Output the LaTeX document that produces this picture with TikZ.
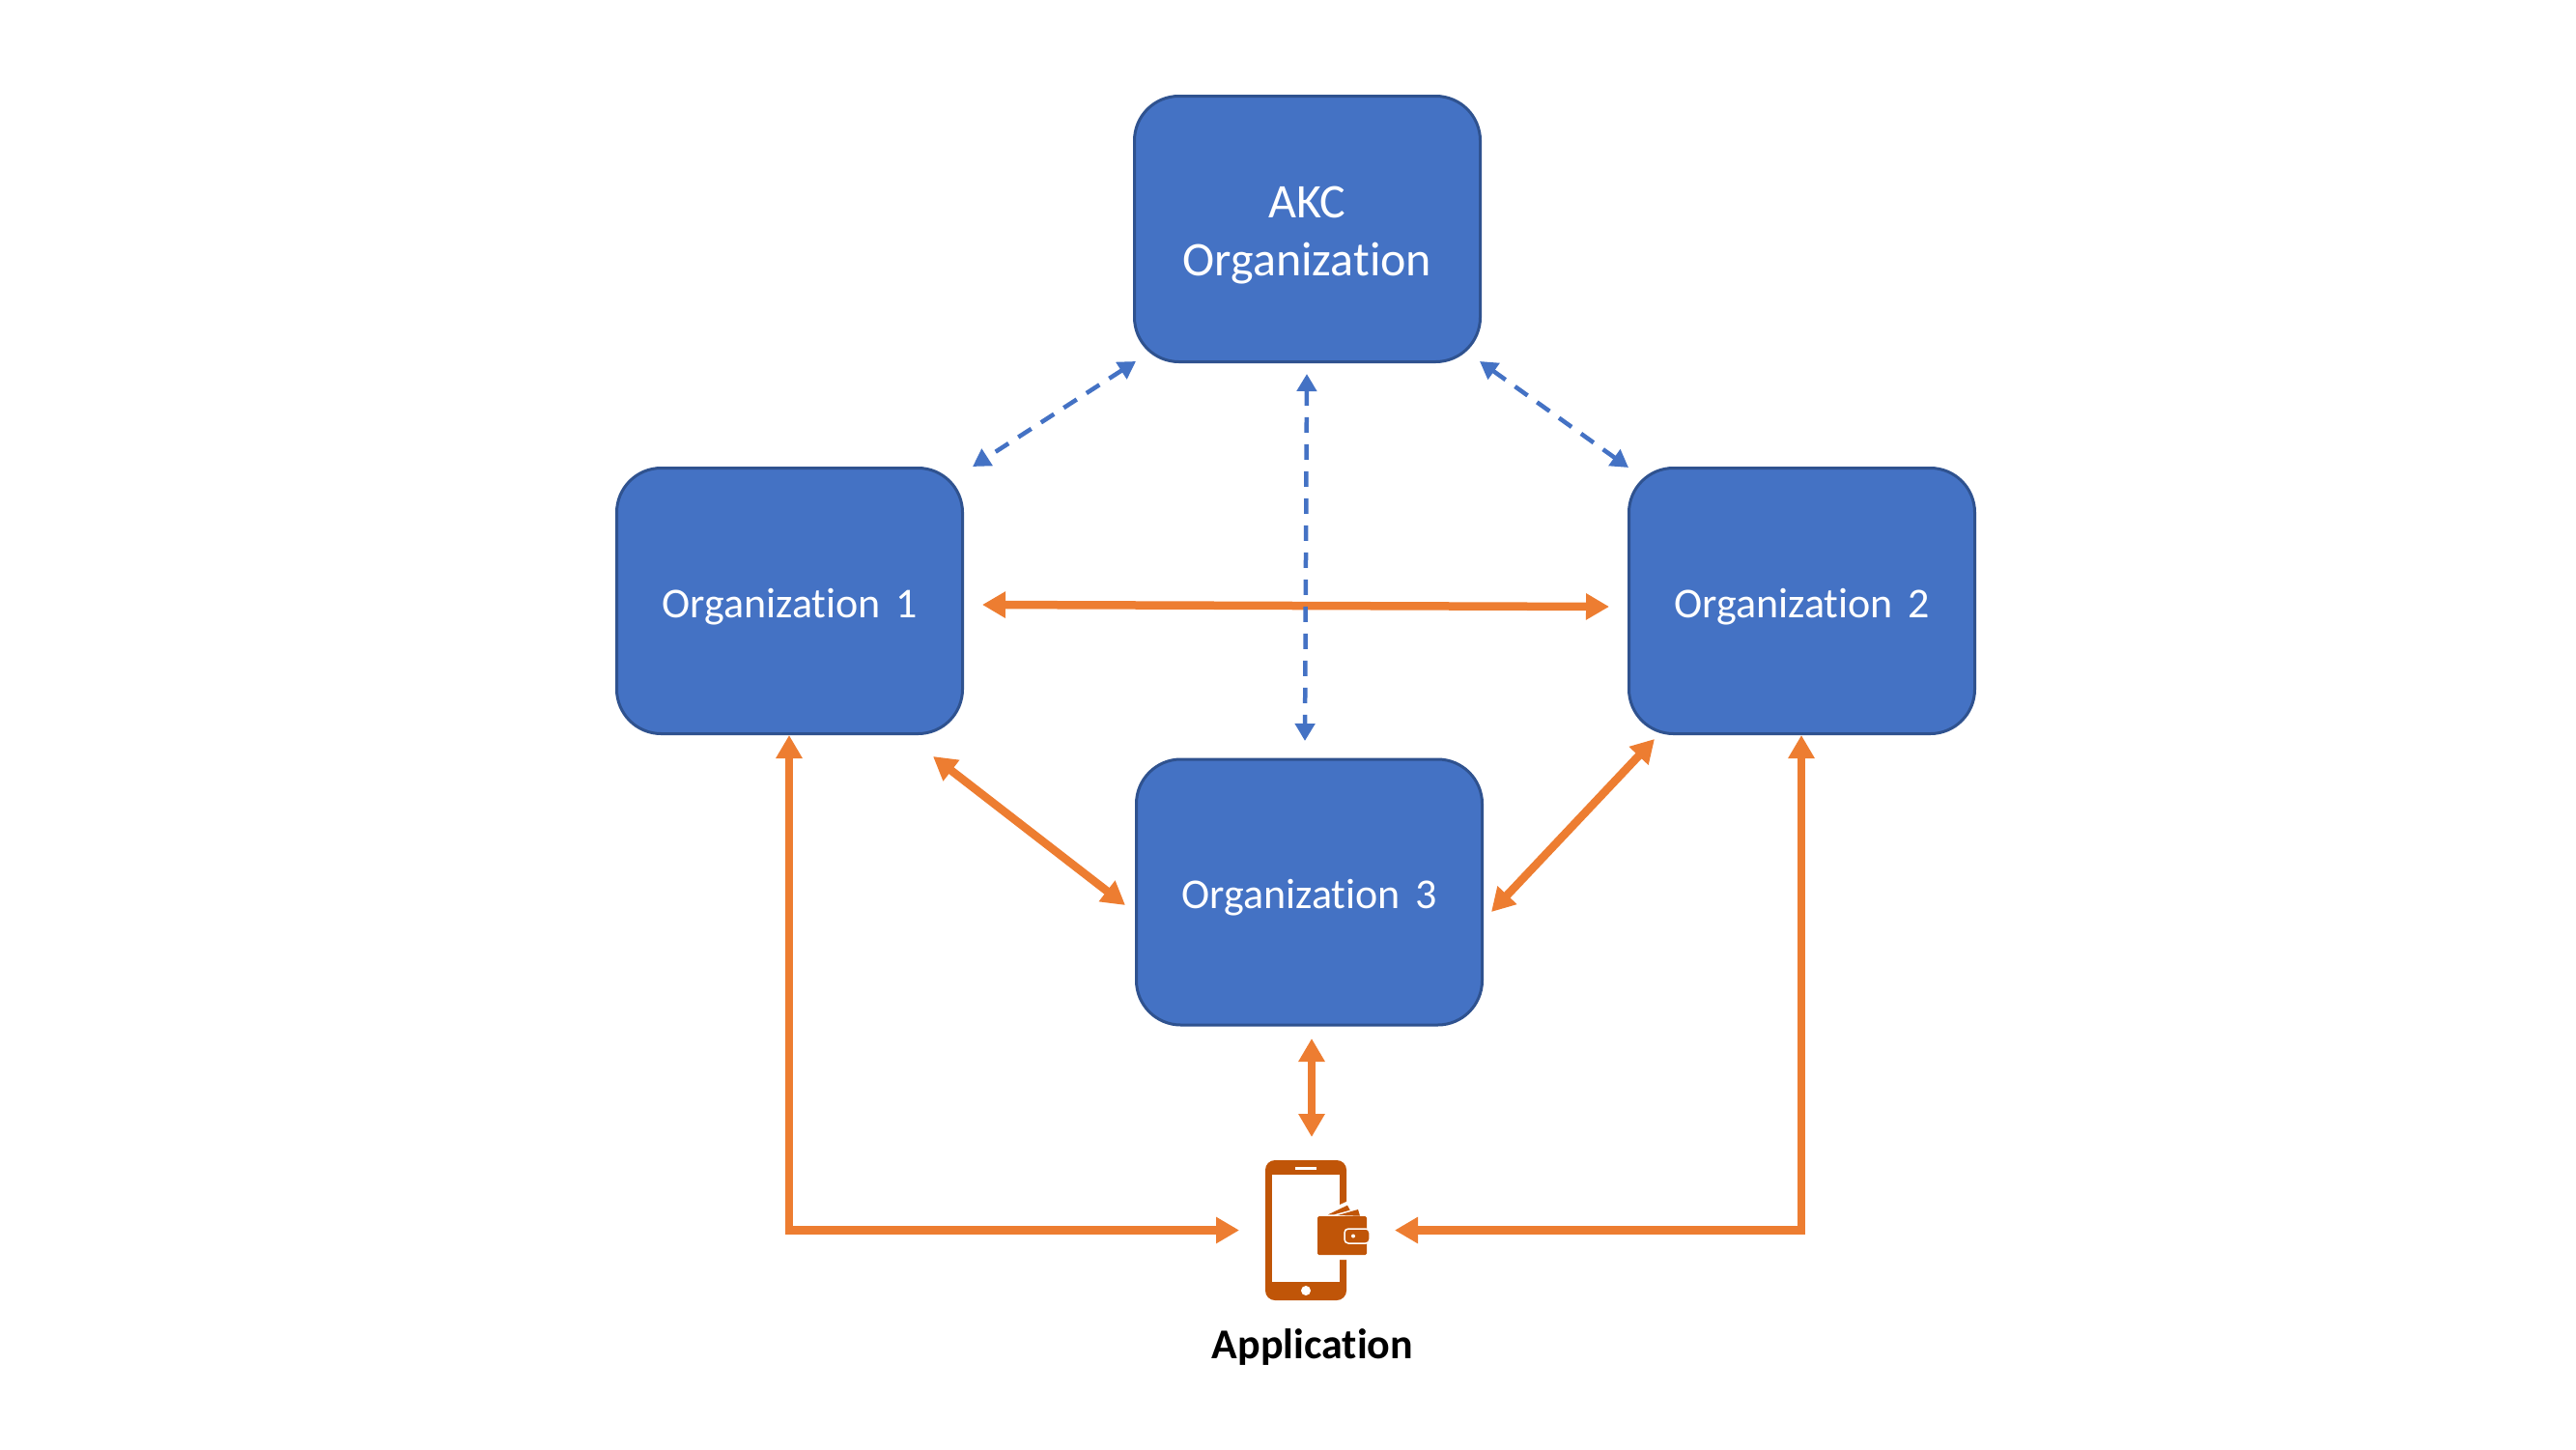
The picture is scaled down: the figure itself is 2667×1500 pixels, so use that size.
\documentclass[tikz,border=0pt]{standalone}
\usepackage{fontspec}
\setmainfont[Ligatures=NoCommon]{Carlito}
\usetikzlibrary{arrows.meta,calc}
\definecolor{boxfill}{HTML}{4472C4}
\definecolor{boxline}{HTML}{2F528F}
\definecolor{linkorange}{HTML}{ED7D31}
\definecolor{iconorange}{HTML}{C05508}
\tikzset{
  orgbox/.style={draw=boxline,line width=3pt,fill=boxfill,rounded corners=46pt,
    minimum width=358pt,minimum height=275pt,inner sep=0pt,align=center,text=white,
    font=\fontsize{44}{60}\selectfont},
  orangelink/.style={draw=linkorange,line width=8.5pt,
    {Triangle[length=24pt,width=26pt]}-{Triangle[length=24pt,width=26pt]}},
  bluelink/.style={draw=boxfill,line width=4.5pt,dash pattern=on 16pt off 12pt,
    {Triangle[length=18pt,width=20pt]}-{Triangle[length=18pt,width=20pt]}},
  iconpart/.style={fill=iconorange,draw=none}
}
\newcommand{\orglabel}[1]{\rule{0pt}{42pt}Organization\hspace{15pt}#1}
\begin{document}
\begin{tikzpicture}[x=1pt,y=-1pt]
\useasboundingbox (0,0) rectangle (2667,1500);
\node[orgbox,font=\fontsize{50}{60}\selectfont] (akc) at (1353.5,237) {\rule{0pt}{46pt}AKC\\Organization};
\node[orgbox] (org1) at (817.5,622) {\orglabel{1}};
\node[orgbox] (org2) at (1865.5,622) {\orglabel{2}};
\node[orgbox] (org3) at (1355.5,923.5) {\orglabel{3}};
% phone icon
\node[iconpart,rounded corners=10pt,minimum width=84pt,minimum height=145pt,inner sep=0pt] (phone) at (1352,1273.5) {};
\fill[white] (1317,1216) rectangle (1387,1327);
\fill[white] (1341,1208) rectangle (1363,1210.5);
\fill[white] (1352,1336) circle (5pt);
\fill[white] (1385,1248) -- (1396,1243) -- (1396,1304) -- (1385,1304) -- cycle;
\fill[iconpart] (1375,1257.3) -- (1395,1247.7) -- (1397.7,1252.7) -- (1381,1257.3) -- cycle;
\fill[iconpart] (1385,1258) -- (1406,1252) -- (1408,1258.7) -- cycle;
\fill[iconpart,rounded corners=1.5pt] (1364,1259) rectangle (1415,1299);
\fill[iconpart,draw=white,line width=1.5pt,rounded corners=4pt] (1392,1272) rectangle (1418,1287);
\fill[white] (1401,1279.5) circle (2pt);
\node[font=\bfseries\fontsize{44}{52}\selectfont,text=black] (applabel) at (1359,1395) {Application};
% orange links
\draw[orangelink] ($(org1)+(199.5,4)$) -- ($(org2)+(-199.5,6)$);
\draw[orangelink] ($(org1)+(148.5,161)$) -- ($(org3)+(-190.5,13.5)$);
\draw[orangelink] ($(org3)+(188.5,20.5)$) -- ($(org2)+(-152.5,143)$);
\draw[orangelink] ($(org3)+(2.5,151.5)$) -- ($(phone)+(6,-96.5)$);
\draw[orangelink] ($(org1)+(-0.5,139)$) |- ($(phone)+(-69,0)$);
\draw[orangelink] ($(org2)+(-0.5,139)$) |- ($(phone)+(92,0)$);
% blue dashed links
\draw[bluelink] ($(akc)+(-177.5,137)$) -- ($(org1)+(189.5,-139)$);
\draw[bluelink] ($(akc)+(178.5,137)$) -- ($(org2)+(-179.5,-138)$);
\draw[bluelink] ($(akc)+(-0.5,150)$) -- ($(org3)+(-4.5,-156.5)$);
\end{tikzpicture}
\end{document}
